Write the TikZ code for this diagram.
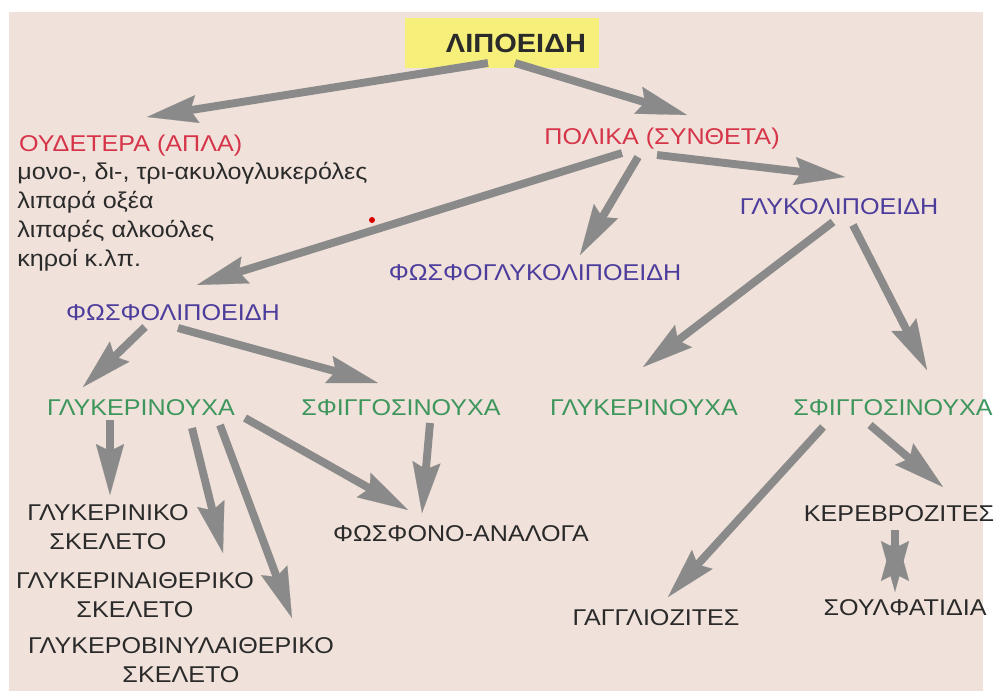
\documentclass[tikz,border=0pt]{standalone}
\usepackage{fontspec}
\setmainfont{Liberation Sans}[FakeStretch=1.1]
\usepackage{xcolor}
\usepackage{tikz}
\usetikzlibrary{arrows.meta}
\usetikzlibrary{calc}

\definecolor{bgpink}{RGB}{240,226,218}
\definecolor{lipyellow}{RGB}{246,240,122}
\definecolor{arrgray}{RGB}{138,138,138}
\definecolor{txtred}{RGB}{214,52,72}
\definecolor{txtblue}{RGB}{76,60,156}
\definecolor{txtgreen}{RGB}{62,150,92}
\definecolor{txtdark}{RGB}{42,42,42}

\begin{document}
\begin{tikzpicture}[x=0.02cm,y=-0.02cm,
                    >={Stealth[length=29pt,width=16pt,inset=4pt,line width=0.1pt]},
                    every node/.style={font=\fontsize{13}{16.5}\selectfont,inner sep=1pt,text=txtdark}]
 				 \tikzstyle{word}=[text height=9.3pt, text depth=0pt]
 				 \tikzstyle{arr}=[->, draw=arrgray, fill=arrgray, line width=4.5pt]
 				 \useasboundingbox (0,0) rectangle (995,691);
 				 \fill[white] (0,0) rectangle (995,691);
 				 \fill[bgpink] (9,12) rectangle (983,691);
 				 % top
 					 \node[fill=lipyellow, minimum width=3.9cm, minimum height=1cm,
 					       font=\fontsize{15}{17}\selectfont\bfseries] (lip) at (502,43) {\hspace*{0.56cm}ΛΙΠΟΕΙΔΗ};
 					 \node[word, anchor=west, text=txtred] (oud) at (17,143) {ΟΥΔΕΤΕΡΑ (ΑΠΛΑ)};
 					 \node[anchor=north west, align=left, inner sep=0pt] (lst) at (17,162)
 					       {μονο-, δι-, τρι-ακυλογλυκερόλες\\λιπαρά οξέα\\λιπαρές αλκοόλες\\κηροί κ.λπ.};
 					 \node[word, text=txtred] (pol) at (662,136) {ΠΟΛΙΚΑ (ΣΥΝΘΕΤΑ)};
 					 \node[word, text=txtblue] (gly) at (839,206) {ΓΛΥΚΟΛΙΠΟΕΙΔΗ};
 					 \node[word, text=txtblue] (fgl) at (535,272) {ΦΩΣΦΟΓΛΥΚΟΛΙΠΟΕΙΔΗ};
 					 \node[word, text=txtblue] (fli) at (173,312) {ΦΩΣΦΟΛΙΠΟΕΙΔΗ};
 				 % middle row
 					 \node[word, text=txtgreen] (gl1) at (141,407) {ΓΛΥΚΕΡΙΝΟΥΧΑ};
 					 \node[word, text=txtgreen] (sf1) at (401,407) {ΣΦΙΓΓΟΣΙΝΟΥΧΑ};
 					 \node[word, text=txtgreen] (gl2) at (644,407) {ΓΛΥΚΕΡΙΝΟΥΧΑ};
 					 \node[word, text=txtgreen] (sf2) at (893,407) {ΣΦΙΓΓΟΣΙΝΟΥΧΑ};
 				 % bottom
 					 \node[align=center] (gsk) at (108,527) {ΓΛΥΚΕΡΙΝΙΚΟ\\ΣΚΕΛΕΤΟ};
 					 \node[align=center] (gai) at (135,595) {ΓΛΥΚΕΡΙΝΑΙΘΕΡΙΚΟ\\ΣΚΕΛΕΤΟ};
 					 \node[align=center] (gbv) at (181,660) {ΓΛΥΚΕΡΟΒΙΝΥΛΑΙΘΕΡΙΚΟ\\ΣΚΕΛΕΤΟ};
 					 \node[word] (fan) at (461,533) {ΦΩΣΦΟΝΟ-ΑΝΑΛΟΓΑ};
 					 \node[word] (ker) at (899,513) {ΚΕΡΕΒΡΟΖΙΤΕΣ};
 					 \node[word] (sou) at (905,607) {ΣΟΥΛΦΑΤΙΔΙΑ};
 					 \node[word] (gan) at (656,617) {ΓΑΓΓΛΙΟΖΙΤΕΣ};
 				 \fill[red!85!black] (372,220) circle (3);
 					 \path[arr] ($(lip)+(-14,20)$) edge ($(oud.west)+(130,-26)$)
 					 		 	($(lip)+(13,20)$) edge ($(pol)+(25,-21)$)
 					 			($(pol)+(-40,17)$) edge ($(fli)+(24,-27)$)
 					 			($(pol)+(-24,21)$) edge ($(fgl)+(45,-17)$)
 					 			($(pol)+(-5,19)$) edge ($(gly)+(6,-29)$)
 					 			($(gly)+(-6,16)$) edge ($(gl2)+(-1,-40)$)
 					 			($(gly)+(14,19)$) edge ($(sf2)+(34,-37)$)
 					 			($(fli)+(-28,15)$) edge ($(gl1)+(-58,-20)$)
 					 			($(fli)+(5,16)$) edge ($(sf1)+(-23,-24)$)
 					 			($(gl1)+(-31,13)$) edge ($(gsk)+(2,-32)$)
 					 			($(gl1)+(51,21)$) edge ($(gai)+(88,-42)$)
 					 			($(gl1)+(79,18)$) edge ($(gbv)+(111,-42)$)
 					 			($(gl1)+(104,11)$) edge ($(fan)+(-53,-23)$)
 					 			($(sf1)+(29,16)$) edge ($(fan)+(-39,-20)$)
 					 			($(sf2)+(-70,20)$) edge ($(gan)+(12,-20)$)
 					 			($(sf2)+(-23,18)$) edge ($(ker)+(44,-26)$)
 					 			($(ker)+(-4,17)$) edge ($(sou)+(-10,-15)$);
				\end{tikzpicture}
\end{document}
